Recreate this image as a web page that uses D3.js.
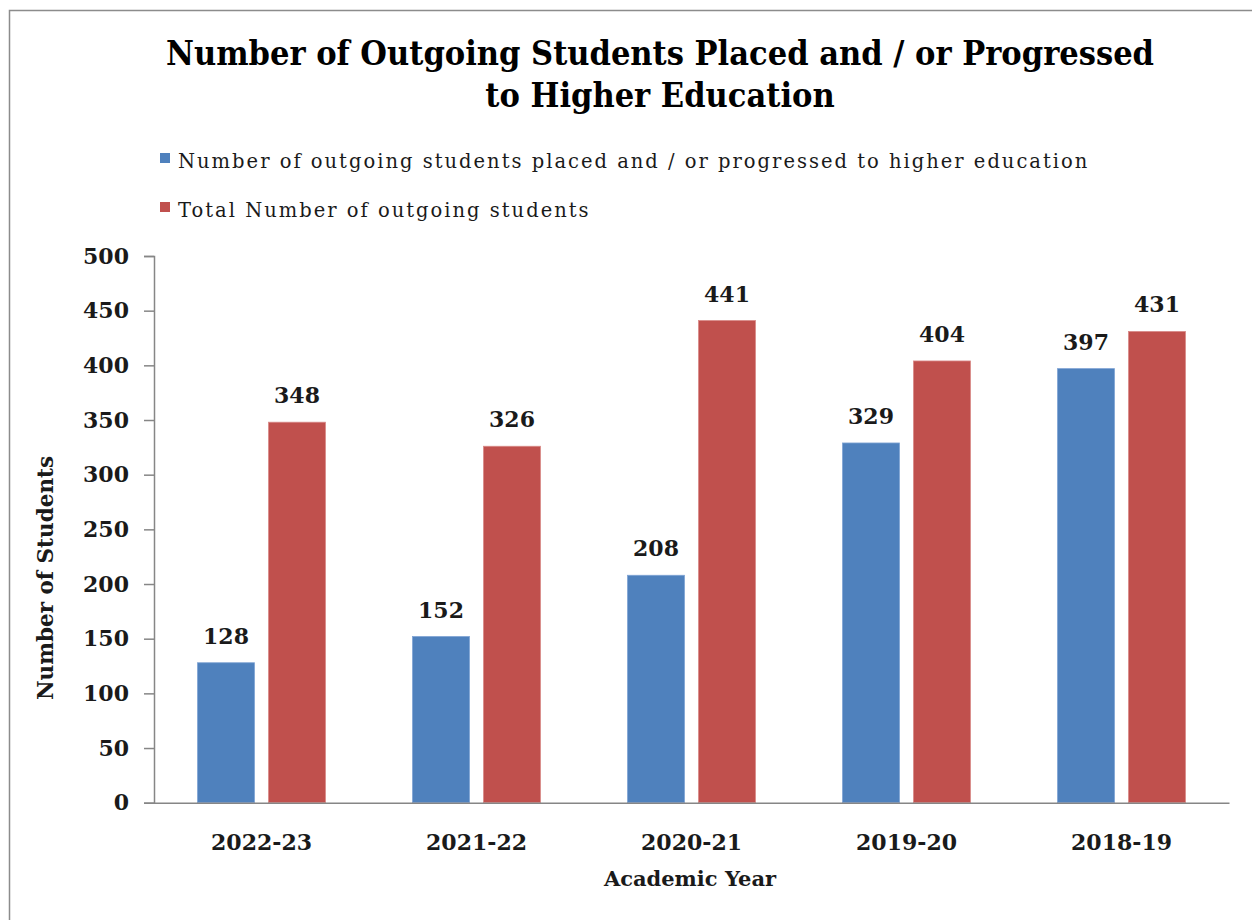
<!DOCTYPE html>
<html>
<head>
  <meta charset="utf-8">
  <title>Outgoing Students</title>
  <script src="https://cdnjs.cloudflare.com/ajax/libs/d3/7.8.5/d3.min.js"></script>
  <style>
    body { margin: 0; background: #fff; }
    text { font-family: "DejaVu Serif", serif; }
    .title { font-family: "DejaVu Serif Condensed", "DejaVu Serif", serif; font-stretch: condensed; }
  </style>
</head>
<body>
  <script>
    // chart values
    const years = ['2022-23', '2021-22', '2020-21', '2019-20', '2018-19'];
    const placed = [128, 152, 208, 329, 397];
    const total = [348, 326, 441, 404, 431];
    const seriesNames = [
      'Number of outgoing students placed and / or progressed to higher education',
      'Total Number of outgoing students'
    ];
    const seriesColors = ['#4F81BD', '#C0504D'];
    const yTicks = [0, 50, 100, 150, 200, 250, 300, 350, 400, 450, 500];

    const width = 1252, height = 920;
    const plotLeft = 154, plotRight = 1229, plotTop = 256, plotBottom = 802.7;

    const svg = d3.select('body').append('svg')
      .attr('width', width)
      .attr('height', height);

    // frame
    svg.append('rect')
      .attr('x', 9.5).attr('y', 10.5)
      .attr('width', 1260).attr('height', 930)
      .attr('fill', 'none')
      .attr('stroke', '#8c8c8c')
      .attr('stroke-width', 1.5);

    // title
    const title = svg.append('text')
      .attr('class', 'title')
      .attr('text-anchor', 'middle')
      .attr('font-weight', 'bold')
      .attr('font-size', 34)
      .attr('fill', '#000');
    title.append('tspan').attr('x', 660).attr('y', 65).text('Number of Outgoing Students Placed and  / or Progressed');
    title.append('tspan').attr('x', 660).attr('y', 107).text('to Higher Education');

    // legend
    const legend = svg.append('g').selectAll('g')
      .data(seriesNames)
      .join('g')
      .attr('transform', (d, i) => `translate(160,${161 + i * 49})`);
    legend.append('rect')
      .attr('x', 0).attr('y', -8)
      .attr('width', 10).attr('height', 10)
      .attr('fill', (d, i) => seriesColors[i]);
    legend.append('text')
      .attr('x', 18).attr('y', 7)
      .attr('font-size', 19.5)
      .attr('letter-spacing', 2)
      .attr('fill', '#1a1a1a')
      .text(d => d);

    // scales
    const x0 = d3.scaleBand().domain(years).range([plotLeft, plotRight]);
    const x1 = d3.scaleBand().domain([0, 1])
      .range([43.5, 171.5])
      .paddingInner(0.197);
    const y = d3.scaleLinear().domain([0, 500]).range([plotBottom, plotTop]);

    // y axis
    const yAxis = svg.append('g')
      .attr('transform', `translate(${plotLeft},0)`)
      .call(d3.axisLeft(y).tickValues(yTicks).tickSize(10).tickPadding(15));
    yAxis.selectAll('line, path').attr('stroke', '#868686').attr('stroke-width', 1.5);
    yAxis.selectAll('text')
      .attr('font-size', 22)
      .attr('font-weight', 'bold')
      .attr('fill', '#1a1a1a')
      .attr('font-family', '"DejaVu Serif", serif');

    // bars
    const groups = svg.append('g').selectAll('g')
      .data(years)
      .join('g')
      .attr('transform', d => `translate(${x0(d)},0)`);

    const barData = (d, i) => [placed[i], total[i]].map((v, s) => ({ v, s }));

    groups.selectAll('rect')
      .data(barData)
      .join('rect')
      .attr('x', d => x1(d.s))
      .attr('width', x1.bandwidth())
      .attr('y', d => y(d.v))
      .attr('height', d => y(0) - y(d.v))
      .attr('fill', d => seriesColors[d.s])
      .attr('stroke', d => d.s === 0 ? '#7fa3d4' : '#d98a88')
      .attr('stroke-width', 0.8);

    groups.selectAll('text.val')
      .data(barData)
      .join('text')
      .attr('class', 'val')
      .attr('x', d => x1(d.s) + x1.bandwidth() / 2)
      .attr('y', d => y(d.v) - 19)
      .attr('text-anchor', 'middle')
      .attr('font-size', 22)
      .attr('font-weight', 'bold')
      .attr('fill', '#1a1a1a')
      .text(d => d.v);

    // x axis
    const xAxis = svg.append('g')
      .attr('transform', `translate(0,${plotBottom})`)
      .call(d3.axisBottom(x0).tickSize(0).tickPadding(32));
    xAxis.select('path').attr('stroke', '#868686').attr('stroke-width', 1.5);
    xAxis.selectAll('text')
      .attr('font-size', 22)
      .attr('font-weight', 'bold')
      .attr('fill', '#1a1a1a')
      .attr('font-family', '"DejaVu Serif", serif');

    // axis titles
    svg.append('text')
      .attr('x', 690).attr('y', 886)
      .attr('text-anchor', 'middle')
      .attr('font-size', 21)
      .attr('font-weight', 'bold')
      .attr('fill', '#1a1a1a')
      .text('Academic Year');

    svg.append('text')
      .attr('transform', 'translate(53,578) rotate(-90)')
      .attr('text-anchor', 'middle')
      .attr('font-size', 21.5)
      .attr('font-weight', 'bold')
      .attr('fill', '#1a1a1a')
      .text('Number of Students');
  </script>
</body>
</html>
